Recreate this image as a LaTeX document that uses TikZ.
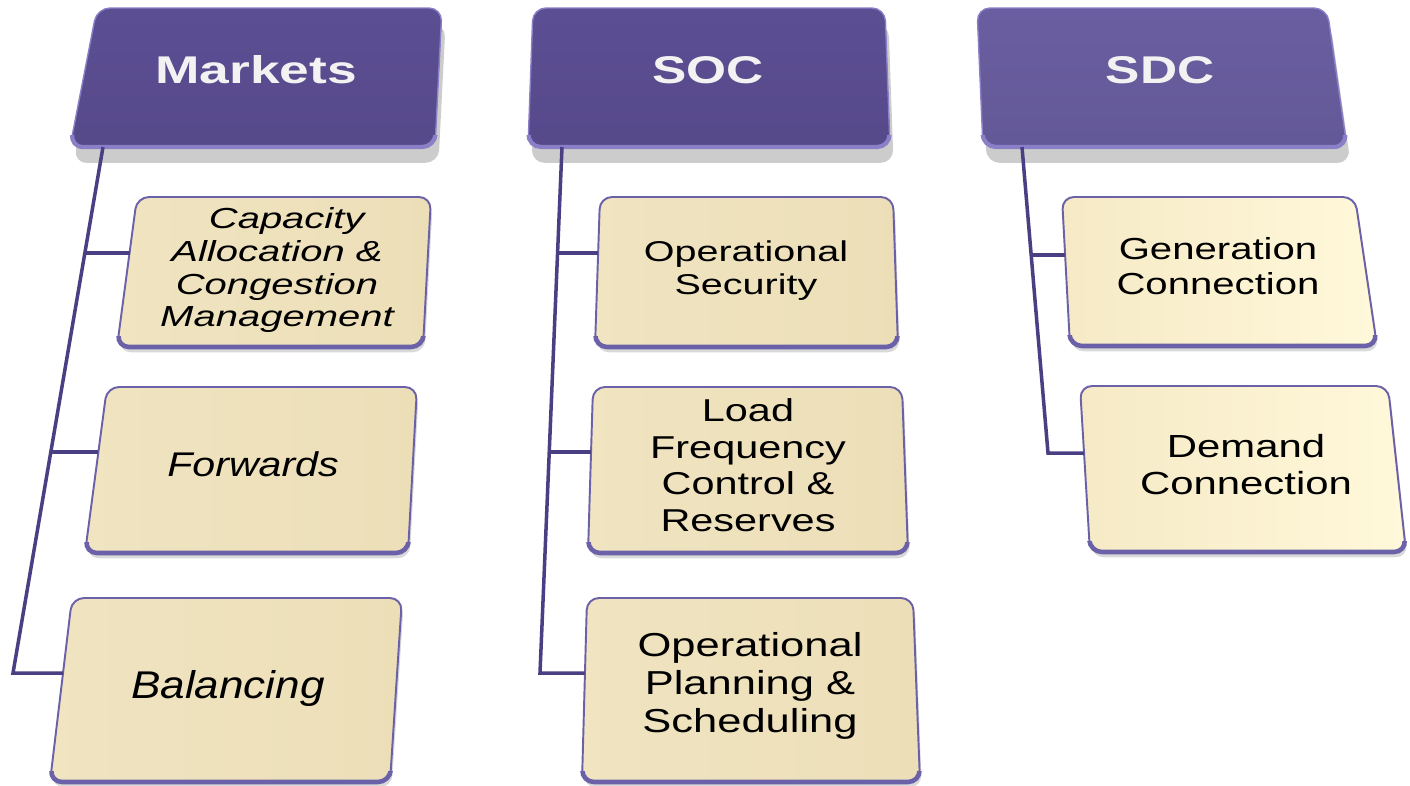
\documentclass[tikz,border=0pt]{standalone}
\usepackage{fontspec}
\usepackage{graphicx}
\setmainfont{Liberation Sans}
\usetikzlibrary{calc,shadows}
\definecolor{hdrA}{HTML}{5C4E93}
\definecolor{hdrB}{HTML}{6A5EA1}
\definecolor{hdredge}{HTML}{8A80C8}
\definecolor{trunkc}{HTML}{4B3F84}
\definecolor{cardA}{HTML}{F0E4C1}
\definecolor{cardB}{HTML}{ECDFB8}
\definecolor{cardedge}{HTML}{6A61A8}
\definecolor{sdcL}{HTML}{F6EAC6}
\definecolor{sdcR}{HTML}{FFF8DA}
\definecolor{hdrtxt}{HTML}{F2F2F2}

\newcommand\trapbox[8]{%
  \coordinate (#1-tl) at (#3,#5);
  \coordinate (#1-tr) at (#4,#5);
  \coordinate (#1-bl) at (#6,#8);
  \coordinate (#1-br) at (#7,#8);
  \path[#2] ($(#1-tl)!0.5!(#1-tr)$) -- (#1-tr) -- (#1-br) -- (#1-bl) -- (#1-tl) -- cycle;
}
% thicker lower edge (3D bevel): name, style, clip-from y
\newcommand\bevel[3]{%
  \begin{scope}
    \clip (0,#3) rectangle (1410,800);
    \draw[#2] ($(#1-tl)!0.5!(#1-tr)$) -- (#1-tr) -- (#1-br) -- (#1-bl) -- (#1-tl) -- cycle;
  \end{scope}
}
\newcommand\stretchtext[2]{\scalebox{#1}[1]{\begin{tabular}{@{}c@{}}#2\end{tabular}}}

\tikzset{
  hdrbox/.style={rounded corners=0.26cm, draw=hdredge, line width=0.8pt,
    top color=#1, bottom color=#1!94!black,
    drop shadow={shadow xshift=2pt, shadow yshift=-9pt, opacity=0.4}},
  hdrbevel/.style={rounded corners=0.26cm, draw=hdredge, line width=2.4pt},
  cardbox/.style={rounded corners=0.24cm, draw=cardedge, line width=1.1pt,
    left color=cardA, right color=cardB,
    drop shadow={shadow xshift=1pt, shadow yshift=-3pt, opacity=0.3}},
  sdcbox/.style={rounded corners=0.24cm, draw=cardedge, line width=1.1pt,
    left color=sdcL, right color=sdcR,
    drop shadow={shadow xshift=1pt, shadow yshift=-3pt, opacity=0.3}},
  cardbevel/.style={rounded corners=0.24cm, draw=cardedge, line width=2.6pt},
  hdrtext/.style={text=hdrtxt, inner sep=0pt, font=\fontsize{22}{26}\selectfont\bfseries},
  cardtext/.style={text=black, inner sep=0pt},
  trunk/.style={draw=trunkc, line width=2pt, line join=miter},
}

\begin{document}
\begin{tikzpicture}[x=0.02cm, y=-0.02cm]
\useasboundingbox (0,0) rectangle (1410,785);

% ---------- Markets ----------
\trapbox{mkt}{hdrbox=hdrA}{97}{442}{8}{70}{435}{147}
\trapbox{capb}{cardbox}{137}{431}{197}{117}{423}{347}
\trapbox{fwdb}{cardbox}{107}{417}{387}{85}{408}{553}
\trapbox{balb}{cardbox}{72}{402}{598}{50}{390}{782}

% ---------- SOC ----------
\trapbox{soc}{hdrbox=hdrA}{533}{885}{8}{528}{890}{147}
\trapbox{osb}{cardbox}{600}{893}{197}{595}{898}{347}
\trapbox{lfcb}{cardbox}{593}{902}{387}{588}{908}{553}
\trapbox{opsb}{cardbox}{587}{913}{598}{582}{920}{782}

% ---------- SDC ----------
\trapbox{sdc}{hdrbox=hdrB}{977}{1327}{8}{983}{1347}{147}
\trapbox{genb}{sdcbox}{1062}{1355}{197}{1070}{1377}{346}
\trapbox{demb}{sdcbox}{1080}{1388}{386}{1090}{1406}{552}

% ---------- bevels ----------
\bevel{mkt}{hdrbevel}{135}
\bevel{soc}{hdrbevel}{135}
\bevel{sdc}{hdrbevel}{135}
\bevel{capb}{cardbevel}{336}
\bevel{fwdb}{cardbevel}{542}
\bevel{balb}{cardbevel}{771}
\bevel{osb}{cardbevel}{336}
\bevel{lfcb}{cardbevel}{542}
\bevel{opsb}{cardbevel}{771}
\bevel{genb}{cardbevel}{335}
\bevel{demb}{cardbevel}{541}

% ---------- texts ----------
\node[hdrtext, anchor=base] (mkt) at (256,83) {\scalebox{1.38}[1]{Markets}};
\node[hdrtext, anchor=base] (soc) at (708,83) {\scalebox{1.33}[1]{SOC}};
\node[hdrtext, anchor=base] (sdc) at (1160,83) {\scalebox{1.33}[1]{SDC}};

\node[cardtext, font=\fontsize{16.5}{18.7}\selectfont\itshape] (cap) at (277,271)
  {\stretchtext{1.38}{\hspace*{8pt}Capacity\\Allocation \&\\Congestion\\Management}};
\node[cardtext, font=\fontsize{19.5}{22}\selectfont\itshape] (fwd) at (253,469)
  {\stretchtext{1.2}{Forwards}};
\node[cardtext, font=\fontsize{22}{24}\selectfont\itshape] (bal) at (228,690)
  {\stretchtext{1.14}{Balancing}};

\node[cardtext, font=\fontsize{16.3}{18.7}\selectfont] (os) at (746,271)
  {\stretchtext{1.38}{Operational\\Security}};
\node[cardtext, font=\fontsize{18}{20.8}\selectfont] (lfc) at (748,469)
  {\stretchtext{1.31}{Load\\Frequency\\Control \&\\Reserves}};
\node[cardtext, font=\fontsize{18.9}{21.7}\selectfont] (ops) at (750,687)
  {\stretchtext{1.31}{Operational\\Planning \&\\Scheduling}};

\node[cardtext, font=\fontsize{17.3}{19.8}\selectfont] (gen) at (1218,270)
  {\stretchtext{1.32}{Generation\\Connection}};
\node[cardtext, font=\fontsize{18.2}{21}\selectfont] (dem) at (1246,469)
  {\stretchtext{1.31}{Demand\\Connection}};

% ---------- connector anchors ----------
\coordinate (mkt-root) at (103,147);
\coordinate (mkt-corner) at (13,673);
\coordinate (mkt-j1) at (84.9,253);
\coordinate (mkt-j2) at (50.8,452);
\coordinate (capb-w) at (129.5,253);
\coordinate (fwdb-w) at (98,452);
\coordinate (balb-w) at (63,673);

\coordinate (soc-root) at (562,147);
\coordinate (soc-corner) at (540,673);
\coordinate (soc-j1) at (557.6,253);
\coordinate (soc-j2) at (549.2,452);
\coordinate (osb-w) at (598,253);
\coordinate (lfcb-w) at (591,452);
\coordinate (opsb-w) at (585,673);

\coordinate (sdc-root) at (1022,147);
\coordinate (sdc-corner) at (1048,453);
\coordinate (sdc-j1) at (1031,255);
\coordinate (genb-w) at (1065,255);
\coordinate (demb-w) at (1084,453);

% ---------- connectors ----------
\draw[trunk] (mkt-root) -- (mkt-corner) -- (balb-w);
\draw[trunk] (mkt-j1) -- (capb-w);
\draw[trunk] (mkt-j2) -- (fwdb-w);

\draw[trunk] (soc-root) -- (soc-corner) -- (opsb-w);
\draw[trunk] (soc-j1) -- (osb-w);
\draw[trunk] (soc-j2) -- (lfcb-w);

\draw[trunk] (sdc-root) -- (sdc-corner) -- (demb-w);
\draw[trunk] (sdc-j1) -- (genb-w);
\end{tikzpicture}
\end{document}
